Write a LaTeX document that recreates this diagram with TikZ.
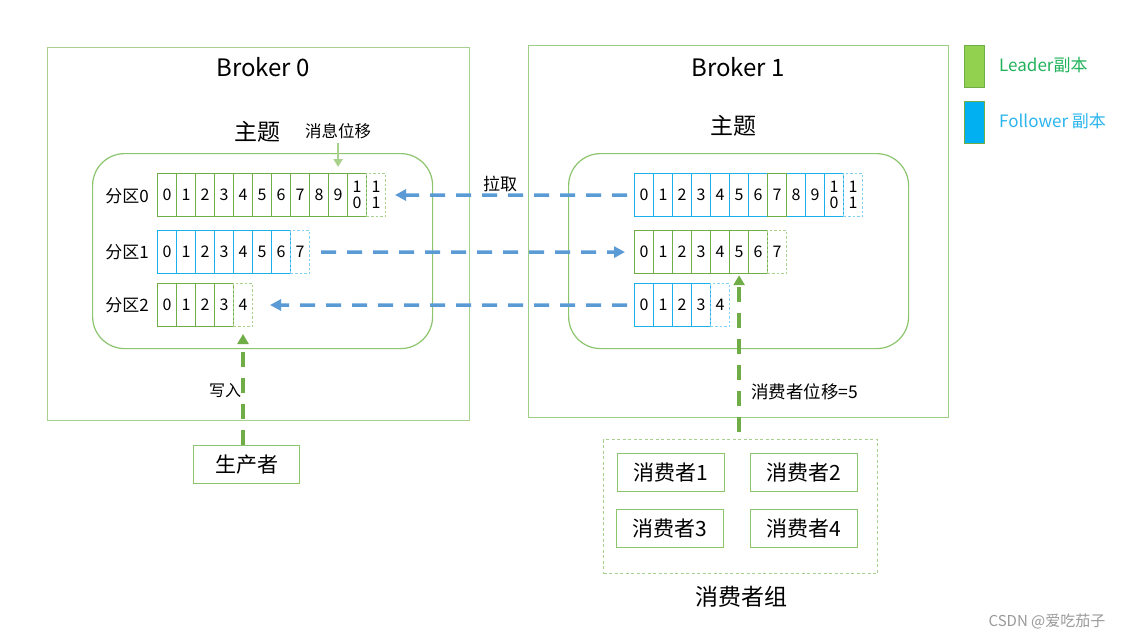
\documentclass[tikz,border=0pt]{standalone}
\usepackage{fontspec}
\setmainfont{Noto Sans CJK SC}
\usetikzlibrary{arrows.meta}
\definecolor{gA}{HTML}{70AD47}
\definecolor{gL}{HTML}{A9D18E}
\definecolor{gT}{HTML}{8CC56E}
\definecolor{bC}{HTML}{1AB0EC}
\definecolor{bL}{HTML}{7FD0F2}
\definecolor{pullC}{HTML}{5B9BD5}
\definecolor{legG}{HTML}{92D050}
\definecolor{legB}{HTML}{00B0F0}
\definecolor{txtG}{HTML}{21B35B}
\definecolor{txtB}{HTML}{2BB5EE}
\definecolor{wm}{HTML}{9A9A9A}
\newcommand\myfs[1]{\fontsize{#1}{#1}\selectfont}
\newcommand\cellrow[6]{%
  \pgfmathtruncatemacro\crlast{#6-1}%
  \foreach \i in {0,...,\crlast}{%
    \ifnum\i>9 \edef\ct{1\noexpand\\\the\numexpr\i-10\relax}\else\edef\ct{\i}\fi
    \ifnum\i=\crlast \tikzset{curcell/.style={#5}}\else\tikzset{curcell/.style={#4}}\fi
    \node[curcell] (#1-\i) at ({#2+19*\i},#3) {\ct};
  }%
}
\tikzset{
  cellbase/.style={line width=1.2pt, minimum width=19pt, minimum height=43pt, inner sep=0pt,
    anchor=north west, align=center, font=\fontsize{16}{16}\selectfont},
  cellG/.style={cellbase, draw=gA},
  cellGd/.style={cellbase, draw=gL, line width=1pt, dash pattern=on 2.5pt off 2pt},
  cellB/.style={cellbase, draw=bC},
  cellBd/.style={cellbase, draw=bL, line width=1pt, dash pattern=on 2.5pt off 2pt},
  broker/.style={draw=gL, line width=1.4pt, anchor=north west, inner sep=0pt,
    minimum width=422pt, minimum height=373pt},
  topic/.style={draw=gT, line width=1.2pt, rounded corners=32pt, anchor=north west, inner sep=0pt,
    minimum width=340pt, minimum height=195pt},
  plain/.style={draw=gT, line width=1.2pt, anchor=north west, inner sep=0pt,
    minimum width=107pt, minimum height=38pt, font=\myfs{21}},
  pullarrow/.style={draw=pullC, line width=3.5pt, dash pattern=on 15pt off 11pt,
    -{Triangle[length=11pt,width=11pt]}},
  greenarrow/.style={draw=gA, line width=3.5pt, dash pattern=on 15pt off 11pt,
    -{Triangle[length=10pt,width=11pt]}},
  lbl/.style={inner sep=0pt, font=\myfs{17}},
}
\begin{document}
\begin{tikzpicture}[x=1pt,y=-1pt]
\useasboundingbox[fill=white] (0,0) rectangle (1131,640);
% brokers
\node[broker] (b0) at (47,47) {};
\node[broker, minimum width=420pt, minimum height=372pt, draw=gT!85] (b1) at (528,45) {};
\node[inner sep=0pt, font=\myfs{24}] (b0t) at (263,67) {Broker 0};
\node[inner sep=0pt, font=\myfs{24}] (b1t) at (738,67) {Broker 1};
% topics
\node[inner sep=0pt, font=\myfs{23}] (t0t) at (257,132) {主题};
\node[inner sep=0pt, font=\myfs{23}] (t1t) at (733,126) {主题};
\node[topic] (t0) at (92,153) {};
\node[topic] (t1) at (568,153) {};
% partition labels
\node[lbl] (p0) at (127,196) {分区0};
\node[lbl] (p1) at (127,252) {分区1};
\node[lbl] (p2) at (127,305) {分区2};
% cells
\cellrow{L0}{157}{173}{cellG}{cellGd}{12}
\cellrow{L1}{157}{230}{cellB}{cellBd}{8}
\cellrow{L2}{157}{283}{cellG}{cellGd}{5}
\cellrow{R0}{634}{173}{cellB}{cellBd}{12}
\node[cellG, fill=white] (R0g) at ({634+19*7},173) {7};
\cellrow{R1}{634}{230}{cellG}{cellGd}{8}
\cellrow{R2}{634}{283}{cellB}{cellBd}{5}
% message offset
\node[inner sep=0pt, font=\myfs{16.5}] (msg) at (338,131) {消息位移};
\draw[draw=gL, line width=2pt, -{Triangle[length=8pt,width=9pt]}, shorten <=4pt, shorten >=6pt]
  (L0-9.north |- msg.south) -- (L0-9.north);
% pull arrows
\node[lbl] (pull) at (500,184) {拉取};
\draw[pullarrow, shorten <=7pt, shorten >=9pt] (R0-0.west) -- (L0-11.east);
\draw[pullarrow, shorten <=11pt, shorten >=9pt] (L1-7.east) -- (R1-0.west);
\draw[pullarrow, shorten <=7pt, shorten >=17pt] (R2-0.west) -- (L2-4.east);
% producer
\node[plain, minimum width=106pt] (prod) at (193,445) {生产者};
\draw[greenarrow, shorten >=7pt] (L2-4.south |- prod.north) -- (L2-4.south);
\node[lbl, font=\myfs{16}] (write) at (225,391) {写入};
% consumer group
\node[draw=gL, line width=1pt, dash pattern=on 3pt off 2.5pt, anchor=north west, inner sep=0pt,
  minimum width=274pt, minimum height=134pt] (cg) at (603,439) {};
\node[plain] (c1) at (617,453) {消费者1};
\node[plain] (c2) at (750,453) {消费者2};
\node[plain] (c3) at (616,509) {消费者3};
\node[plain] (c4) at (750,509) {消费者4};
\node[inner sep=0pt, font=\myfs{23}] (cgt) at (741,597) {消费者组};
\draw[greenarrow, shorten <=7pt, shorten >=1pt] (R1-5.south |- cg.north) -- (R1-5.south);
\node[lbl, anchor=west, font=\myfs{17.5}] (coff) at (751,392) {消费者位移=5};
% legend
\node[draw=gA, fill=legG, line width=1pt, anchor=north west, inner sep=0pt,
  minimum width=20pt, minimum height=42pt] (lg) at (964,45) {};
\node[draw=gA, fill=legB, line width=1pt, anchor=north west, inner sep=0pt,
  minimum width=20pt, minimum height=42pt] (lb) at (964,101) {};
\node[lbl, anchor=west, text=txtG] (lgt) at (999,65) {Leader副本};
\node[lbl, anchor=west, text=txtB] (lbt) at (999,121) {Follower 副本};
% watermark
\node[inner sep=0pt, font=\myfs{15}, text=wm] (wmk) at (1047,621) {CSDN @爱吃茄子};
\end{tikzpicture}
\end{document}
